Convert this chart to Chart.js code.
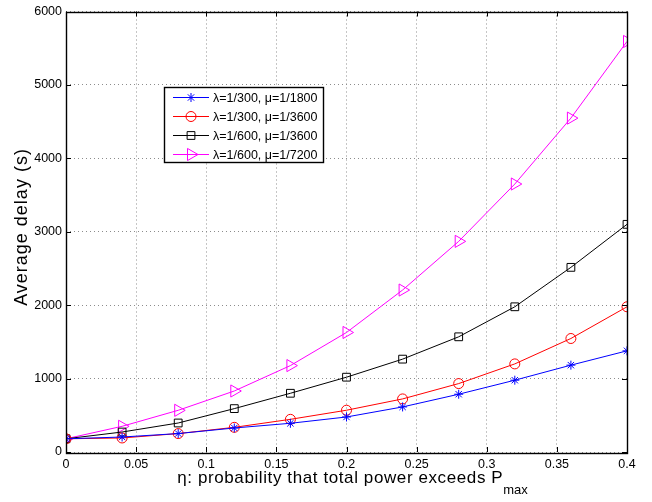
<!DOCTYPE html>
<html>
<head>
<meta charset="utf-8">
<title>Average delay vs. η</title>
<script src="https://cdn.jsdelivr.net/npm/chart.js@4/dist/chart.umd.min.js"></script>
<style>
  html, body { margin: 0; padding: 0; background: #fff; }
  #wrap { width: 652px; height: 502px; }
</style>
</head>
<body>
<div id="wrap"><canvas id="c" width="652" height="502"></canvas></div>
<script>
// η values (probability that total power exceeds Pmax)
const eta = [0, 0.04, 0.08, 0.12, 0.16, 0.2, 0.24, 0.28, 0.32, 0.36, 0.4];

// Average delay (s) for each (λ, μ) setting
const delayL300M1800 = [180, 204, 251, 327, 391, 477, 614, 787, 978, 1183, 1378];
const delayL300M3600 = [180, 191, 251, 336, 445, 569, 723, 932, 1200, 1546, 1978];
const delayL600M3600 = [180, 272, 395, 591, 800, 1019, 1265, 1569, 1978, 2515, 3101];
const delayL600M7200 = [180, 350, 568, 831, 1177, 1628, 2206, 2869, 3650, 4548, 5592];

const seriesLabels = [
  'λ=1/300, μ=1/1800',
  'λ=1/300, μ=1/3600',
  'λ=1/600, μ=1/3600',
  'λ=1/600, μ=1/7200'
];

const xTickValues = [0, 0.05, 0.1, 0.15, 0.2, 0.25, 0.3, 0.35, 0.4];
const xTickLabels = ['0', '0.05', '0.1', '0.15', '0.2', '0.25', '0.3', '0.35', '0.4'];
const yTickValues = [0, 1000, 2000, 3000, 4000, 5000, 6000];

const FONT = '"Liberation Sans", Arial, Helvetica, sans-serif';

const toPoints = ys => eta.map((x, i) => ({ x, y: ys[i] }));

const styles = [
  { color: '#0000ff', pointStyle: 'star', radius: 4.5, rotation: 0 },
  { color: '#ff0000', pointStyle: 'circle', radius: 5, rotation: 0 },
  { color: '#000000', pointStyle: 'rect', radius: 5.5, rotation: 0 },
  { color: '#ff00ff', pointStyle: 'triangle', radius: 7, rotation: 90 }
];

const seriesData = [delayL300M1800, delayL300M3600, delayL600M3600, delayL600M7200];

const datasets = seriesData.map((ys, i) => ({
  label: seriesLabels[i],
  data: toPoints(ys),
  borderColor: styles[i].color,
  backgroundColor: 'rgba(0,0,0,0)',
  borderWidth: 1,
  pointStyle: styles[i].pointStyle,
  pointRadius: styles[i].radius,
  pointRotation: styles[i].rotation,
  pointBorderWidth: 1,
  pointBorderColor: styles[i].color,
  pointBackgroundColor: 'rgba(0,0,0,0)',
  tension: 0,
  fill: false
}));

// Frame, inward tick marks, axis titles and the boxed legend
const framePlugin = {
  id: 'frame',
  afterDraw(chart) {
    const { ctx, chartArea: a, scales } = chart;
    const xs = scales.x, ys = scales.y;
    ctx.save();
    ctx.strokeStyle = '#000';
    ctx.lineWidth = 1;
    ctx.setLineDash([]);

    // inward ticks on all four sides
    const tl = 5;
    ctx.beginPath();
    xTickValues.forEach(v => {
      const px = Math.round(xs.getPixelForValue(v)) + 0.5;
      ctx.moveTo(px, a.bottom); ctx.lineTo(px, a.bottom - tl);
      ctx.moveTo(px, a.top); ctx.lineTo(px, a.top + tl);
    });
    yTickValues.forEach(v => {
      const py = Math.round(ys.getPixelForValue(v)) + 0.5;
      ctx.moveTo(a.left, py); ctx.lineTo(a.left + tl, py);
      ctx.moveTo(a.right, py); ctx.lineTo(a.right - tl, py);
    });
    ctx.stroke();

    // plot box
    ctx.lineWidth = 1.4;
    ctx.strokeRect(Math.round(a.left) + 0.5, Math.round(a.top) + 0.5,
                   Math.round(a.right - a.left), Math.round(a.bottom - a.top));

    // x-axis title with subscript
    ctx.fillStyle = '#000';
    ctx.textBaseline = 'alphabetic';
    const main = 'η: probability that total power exceeds P';
    const sub = 'max';
    ctx.letterSpacing = '0.6px';
    ctx.font = '17px ' + FONT;
    const wMain = ctx.measureText(main).width;
    ctx.letterSpacing = '0px';
    ctx.font = '13px ' + FONT;
    const wSub = ctx.measureText(sub).width;
    const cx = (a.left + a.right) / 2 + 6;
    const x0 = cx - (wMain + wSub) / 2;
    ctx.letterSpacing = '0.6px';
    ctx.font = '17px ' + FONT;
    ctx.textAlign = 'left';
    ctx.fillText(main, x0, 483);
    ctx.letterSpacing = '0px';
    ctx.font = '13px ' + FONT;
    ctx.fillText(sub, x0 + wMain, 494);

    // y-axis title
    ctx.save();
    ctx.translate(27, 227);
    ctx.rotate(-Math.PI / 2);
    ctx.letterSpacing = '1px';
    ctx.font = '18px ' + FONT;
    ctx.textAlign = 'center';
    ctx.fillText('Average delay (s)', 0, 0);
    ctx.restore();
    ctx.letterSpacing = '0px';

    // legend
    const lx = 164.5, ly = 87.5, lw = 159, lh = 75;
    ctx.fillStyle = '#fff';
    ctx.fillRect(lx, ly, lw, lh);
    ctx.strokeStyle = '#000';
    ctx.lineWidth = 1.4;
    ctx.strokeRect(lx, ly, lw, lh);
    ctx.font = '12.5px ' + FONT;
    ctx.textAlign = 'left';
    ctx.textBaseline = 'middle';
    chart.data.datasets.forEach((ds, i) => {
      const ry = 97.5 + i * 19;
      ctx.strokeStyle = styles[i].color;
      ctx.lineWidth = 1;
      ctx.beginPath();
      ctx.moveTo(173, ry); ctx.lineTo(209, ry);
      ctx.stroke();
      ctx.fillStyle = 'rgba(0,0,0,0)';
      Chart.helpers.drawPoint(ctx, {
        pointStyle: ds.pointStyle,
        rotation: ds.pointRotation,
        radius: ds.pointRadius,
        borderWidth: 1
      }, 191, ry);
      ctx.fillStyle = '#000';
      ctx.fillText(ds.label, 213, ry + 1);
    });
    ctx.restore();
  }
};

new Chart(document.getElementById('c'), {
  type: 'line',
  data: { datasets },
  options: {
    responsive: false,
    animation: false,
    devicePixelRatio: 1,
    layout: { padding: { top: 10, right: 25, left: 0, bottom: 0 } },
    plugins: {
      legend: { display: false },
      tooltip: { enabled: false }
    },
    scales: {
      x: {
        type: 'linear',
        min: 0,
        max: 0.4,
        afterBuildTicks: s => { s.ticks = xTickValues.map(v => ({ value: v })); },
        afterFit: s => { s.height = 50; },
        ticks: {
          color: '#000',
          font: { family: FONT, size: 12.5 },
          padding: 5,
          maxRotation: 0,
          autoSkip: false,
          callback: (v) => {
            const k = xTickValues.findIndex(t => Math.abs(t - v) < 1e-9);
            return k >= 0 ? xTickLabels[k] : '';
          }
        },
        grid: { color: '#8c8c8c', lineWidth: 1, drawTicks: false },
        border: { display: false, dash: [1, 3] }
      },
      y: {
        type: 'linear',
        min: 0,
        max: 6000,
        afterBuildTicks: s => { s.ticks = yTickValues.map(v => ({ value: v })); },
        afterFit: s => { s.width = 66; },
        ticks: {
          color: '#000',
          font: { family: FONT, size: 12.5 },
          padding: 4,
          callback: v => String(v)
        },
        grid: { color: '#8c8c8c', lineWidth: 1, drawTicks: false },
        border: { display: false, dash: [1, 3] }
      }
    }
  },
  plugins: [framePlugin]
});
</script>
</body>
</html>
